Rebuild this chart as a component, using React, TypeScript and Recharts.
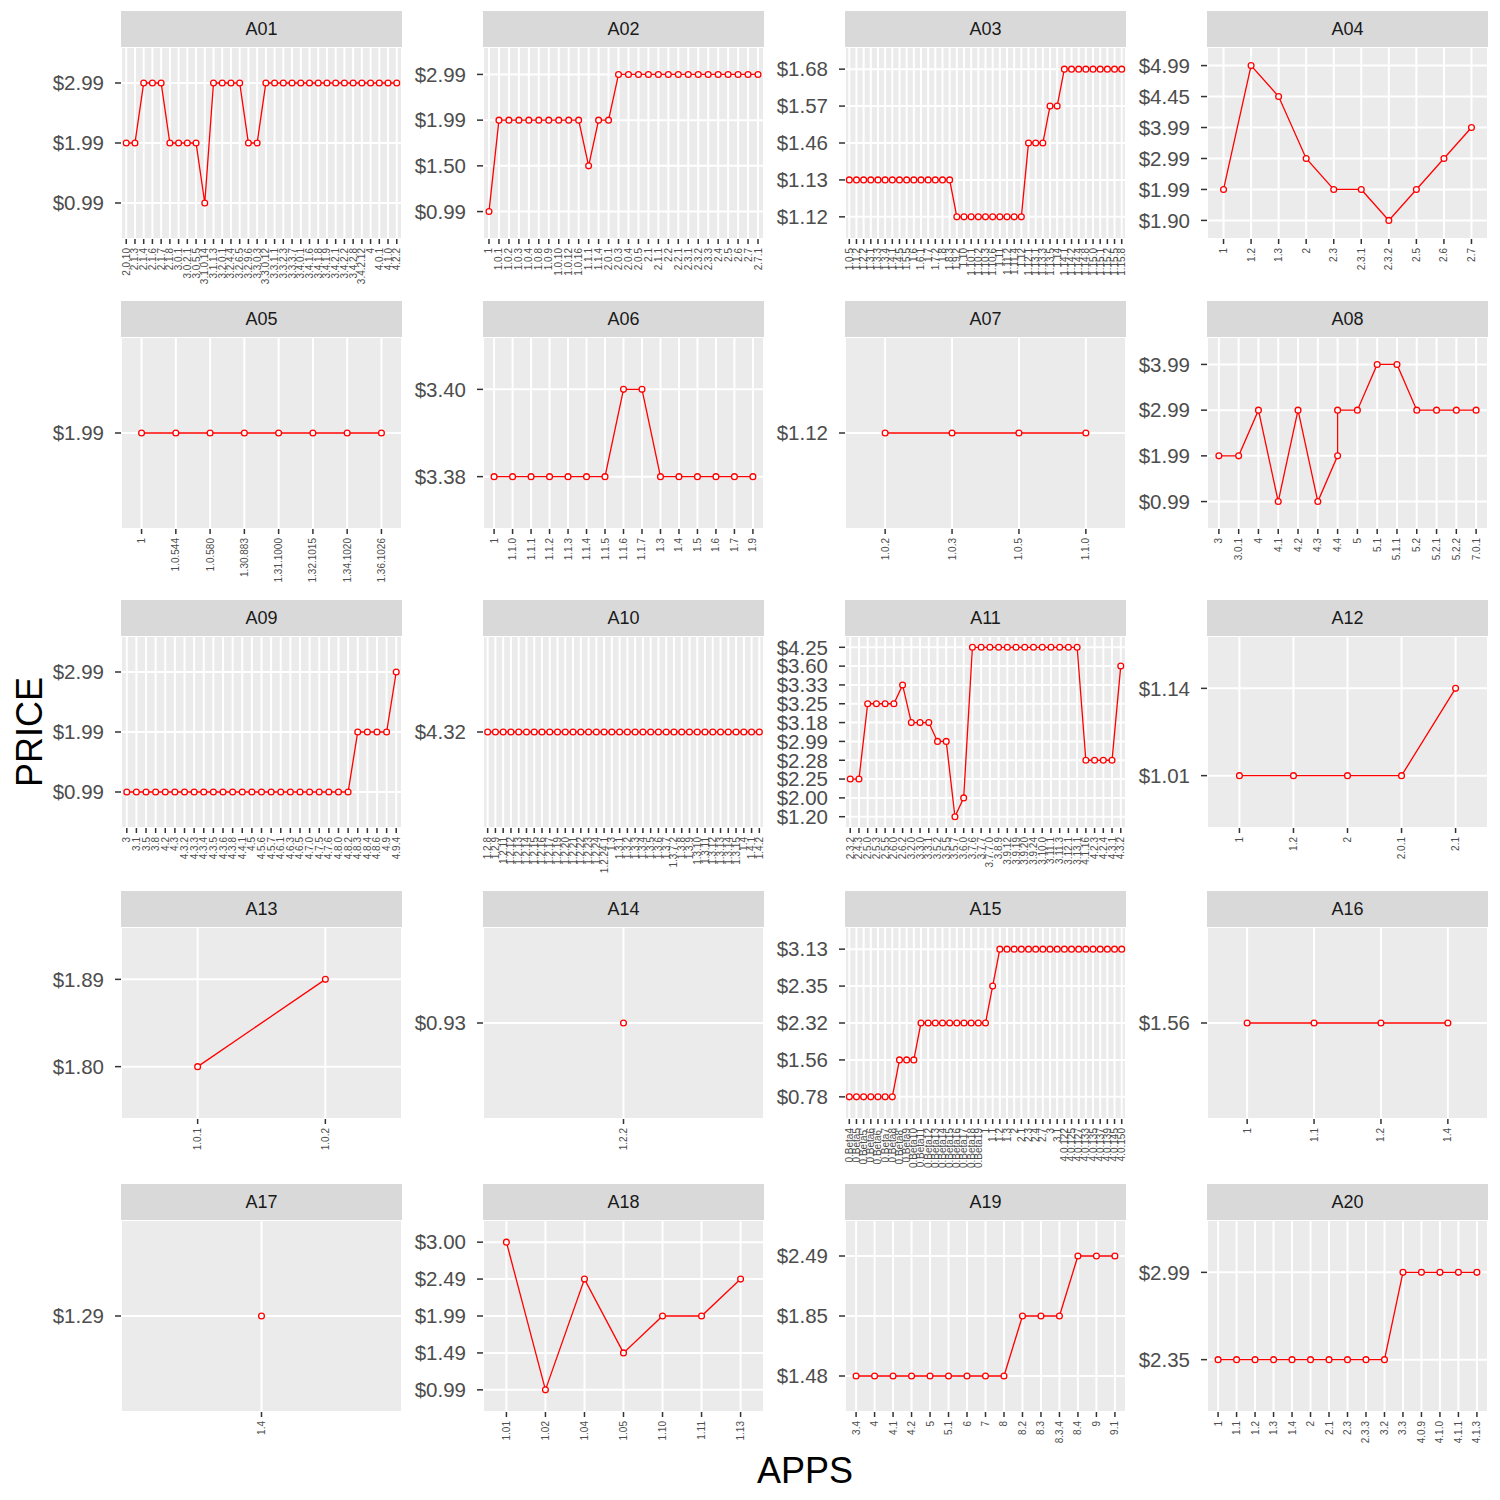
import React from 'react';
import { LineChart, Line, XAxis, YAxis, CartesianGrid } from 'recharts';

const FONT = '"Liberation Sans", Arial, Helvetica, sans-serif';

// ---- price history per app (x: version, y: price in USD) ----
const a01Versions = ['2.0.10', '2.1.3', '2.1.4', '2.1.6', '2.1.7', '2.1.8', '3.0.1', '3.0.2.1', '3.0.5.5', '3.1.0.14', '3.1.1.3', '3.2.0.1', '3.2.4.4', '3.2.6.5', '3.2.9.6', '3.3.0.3', '3.3.0.12', '3.3.1.1', '3.3.2.3', '3.3.3.7', '3.4.0.1', '3.4.1.6', '3.4.1.8', '3.4.1.9', '3.4.2.1', '3.4.2.2', '3.4.2.8', '3.4.2.12', '4', '4.0.1', '4.1.0', '4.2.2'];
const a01Prices = [1.99, 1.99, 2.99, 2.99, 2.99, 1.99, 1.99, 1.99, 1.99, 0.99, 2.99, 2.99, 2.99, 2.99, 1.99, 1.99, 2.99, 2.99, 2.99, 2.99, 2.99, 2.99, 2.99, 2.99, 2.99, 2.99, 2.99, 2.99, 2.99, 2.99, 2.99, 2.99];

const a02Versions = ['1', '1.0.1', '1.0.2', '1.0.3', '1.0.4', '1.0.8', '1.0.9', '1.0.10', '1.0.12', '1.0.16', '1.1.1', '1.1.4', '2.0.1', '2.0.3', '2.0.4', '2.0.5', '2.1', '2.1.1', '2.2', '2.2.1', '2.3.1', '2.3.2', '2.3.3', '2.4', '2.5', '2.6', '2.7', '2.7.1'];
const a02Prices = [0.99, 1.99, 1.99, 1.99, 1.99, 1.99, 1.99, 1.99, 1.99, 1.99, 1.5, 1.99, 1.99, 2.99, 2.99, 2.99, 2.99, 2.99, 2.99, 2.99, 2.99, 2.99, 2.99, 2.99, 2.99, 2.99, 2.99, 2.99];

const a03Versions = ['1.0.5', '1.1.2', '1.2.2', '1.3.1', '1.3.3', '1.3.4', '1.4.1', '1.4.5', '1.5.5', '1.6', '1.6.1', '1.7', '1.7.2', '1.8', '1.8.3', '1.9.2', '1.10', '1.10.1', '1.10.2', '1.10.3', '1.10.6', '1.11', '1.11.2', '1.11.4', '1.12', '1.12.1', '1.13.1', '1.13.3', '1.13.5', '1.14', '1.14.1', '1.14.2', '1.14.4', '1.14.8', '1.15.0', '1.15.1', '1.15.2', '1.15.5', '1.15.8'];
const a03Prices = [1.13, 1.13, 1.13, 1.13, 1.13, 1.13, 1.13, 1.13, 1.13, 1.13, 1.13, 1.13, 1.13, 1.13, 1.13, 1.12, 1.12, 1.12, 1.12, 1.12, 1.12, 1.12, 1.12, 1.12, 1.12, 1.46, 1.46, 1.46, 1.57, 1.57, 1.68, 1.68, 1.68, 1.68, 1.68, 1.68, 1.68, 1.68, 1.68];

const a04Versions = ['1', '1.2', '1.3', '2', '2.3', '2.3.1', '2.3.2', '2.5', '2.6', '2.7'];
const a04Prices = [1.99, 4.99, 4.45, 2.99, 1.99, 1.99, 1.9, 1.99, 2.99, 3.99];

const a05Versions = ['1', '1.0.544', '1.0.580', '1.30.883', '1.31.1000', '1.32.1015', '1.34.1020', '1.36.1026'];
const a05Prices = [1.99, 1.99, 1.99, 1.99, 1.99, 1.99, 1.99, 1.99];

const a06Versions = ['1', '1.1.0', '1.1.1', '1.1.2', '1.1.3', '1.1.4', '1.1.5', '1.1.6', '1.1.7', '1.3', '1.4', '1.5', '1.6', '1.7', '1.9'];
const a06Prices = [3.38, 3.38, 3.38, 3.38, 3.38, 3.38, 3.38, 3.4, 3.4, 3.38, 3.38, 3.38, 3.38, 3.38, 3.38];

const a07Versions = ['1.0.2', '1.0.3', '1.0.5', '1.1.0'];
const a07Prices = [1.12, 1.12, 1.12, 1.12];

const a08Versions = ['3', '3.0.1', '4', '4.1', '4.2', '4.3', '4.4', '5', '5.1', '5.1.1', '5.2', '5.2.1', '5.2.2', '7.0.1'];
// version 4.4 was listed at two prices
const a08PointVersions = ['3', '3.0.1', '4', '4.1', '4.2', '4.3', '4.4', '4.4', '5', '5.1', '5.1.1', '5.2', '5.2.1', '5.2.2', '7.0.1'];
const a08Prices = [1.99, 1.99, 2.99, 0.99, 2.99, 0.99, 1.99, 2.99, 2.99, 3.99, 3.99, 2.99, 2.99, 2.99, 2.99];

const a09Versions = ['3', '3.1', '3.5', '3.8', '4.2', '4.3', '4.3.2', '4.3.3', '4.3.4', '4.3.5', '4.3.6', '4.3.8', '4.4.1', '4.5', '4.5.6', '4.5.7', '4.6.1', '4.6.3', '4.6.5', '4.7.0', '4.7.5', '4.7.6', '4.8.0', '4.8.2', '4.8.3', '4.8.4', '4.8.6', '4.9', '4.9.4'];
const a09Prices = [0.99, 0.99, 0.99, 0.99, 0.99, 0.99, 0.99, 0.99, 0.99, 0.99, 0.99, 0.99, 0.99, 0.99, 0.99, 0.99, 0.99, 0.99, 0.99, 0.99, 0.99, 0.99, 0.99, 0.99, 1.99, 1.99, 1.99, 1.99, 2.99];

const a10Versions = ['1.2.8', '1.2.9', '1.2.11', '1.2.12', '1.2.13', '1.2.14', '1.2.15', '1.2.16', '1.2.17', '1.2.19', '1.2.20', '1.2.21', '1.2.22', '1.2.23', '1.2.24', '1.2.24.1', '1.3', '1.3.1', '1.3.2', '1.3.3', '1.3.4', '1.3.5', '1.3.6', '1.3.7', '1.3.7.2', '1.3.8', '1.3.9', '1.3.10', '1.3.11', '1.3.12', '1.3.13', '1.3.14', '1.3.15', '1.4', '1.4.1', '1.4.2'];
const a10Prices = [4.32, 4.32, 4.32, 4.32, 4.32, 4.32, 4.32, 4.32, 4.32, 4.32, 4.32, 4.32, 4.32, 4.32, 4.32, 4.32, 4.32, 4.32, 4.32, 4.32, 4.32, 4.32, 4.32, 4.32, 4.32, 4.32, 4.32, 4.32, 4.32, 4.32, 4.32, 4.32, 4.32, 4.32, 4.32, 4.32];

const a11Versions = ['2.3.2', '2.4.3', '2.5.0', '2.5.3', '2.5.5', '2.6.0', '2.6.2', '3.2.0', '3.3.0', '3.3.1', '3.5.2', '3.5.5', '3.5.7', '3.6.0', '3.7.6', '3.7.7', '3.7.7.0', '3.8.9', '3.9.12', '3.9.19', '3.9.20', '3.9.24', '3.10.0', '3.11.1', '3.11.3', '3.12.1', '3.13.1', '4.1.16', '4.2.3', '4.2.4', '4.3.1', '4.3.2'];
const a11Prices = [2.25, 2.25, 3.25, 3.25, 3.25, 3.25, 3.33, 3.18, 3.18, 3.18, 2.99, 2.99, 1.2, 2.0, 4.25, 4.25, 4.25, 4.25, 4.25, 4.25, 4.25, 4.25, 4.25, 4.25, 4.25, 4.25, 4.25, 2.28, 2.28, 2.28, 2.28, 3.6];

const a12Versions = ['1', '1.2', '2', '2.0.1', '2.1'];
const a12Prices = [1.01, 1.01, 1.01, 1.01, 1.14];

const a13Versions = ['1.0.1', '1.0.2'];
const a13Prices = [1.8, 1.89];

const a14Versions = ['1.2.2'];
const a14Prices = [0.93];

const a15Versions = ['0.Beta4', '0.Beta5', "0.Beta5'", '0.Beta6', "0.Beta6'", '0.Beta7', '0.Beta8', "0.Beta8'", '0.Beta9', '0.Beta10', '0.Beta11', '0.Beta12', '0.Beta13', '0.Beta14', '0.Beta15', '0.Beta16', '0.Beta17', '0.Beta18', '0.Beta19', '1', '1.1', '1.2', '1.3', '2', '2.1', '2.3', '2.4', '2.7', '3', '3.1', '4.0.122', '4.0.125', '4.0.127', '4.0.133', '4.0.135', '4.0.137', '4.0.139', '4.0.145', '4.0.150'];
const a15Prices = [0.78, 0.78, 0.78, 0.78, 0.78, 0.78, 0.78, 1.56, 1.56, 1.56, 2.32, 2.32, 2.32, 2.32, 2.32, 2.32, 2.32, 2.32, 2.32, 2.32, 2.35, 3.13, 3.13, 3.13, 3.13, 3.13, 3.13, 3.13, 3.13, 3.13, 3.13, 3.13, 3.13, 3.13, 3.13, 3.13, 3.13, 3.13, 3.13];

const a16Versions = ['1', '1.1', '1.2', '1.4'];
const a16Prices = [1.56, 1.56, 1.56, 1.56];

const a17Versions = ['1.4'];
const a17Prices = [1.29];

const a18Versions = ['1.01', '1.02', '1.04', '1.05', '1.10', '1.11', '1.13'];
const a18Prices = [3.0, 0.99, 2.49, 1.49, 1.99, 1.99, 2.49];

const a19Versions = ['3.4', '4', '4.1', '4.2', '5', '5.1', '6', '7', '8', '8.2', '8.3', '8.3.4', '8.4', '9', '9.1'];
const a19Prices = [1.48, 1.48, 1.48, 1.48, 1.48, 1.48, 1.48, 1.48, 1.48, 1.85, 1.85, 1.85, 2.49, 2.49, 2.49];

const a20Versions = ['1', '1.1', '1.2', '1.3', '1.4', '2', '2.1', '2.3', '2.3.3', '3.2', '3.3', '4.0.9', '4.1.0', '4.1.1', '4.1.3'];
const a20Prices = [2.35, 2.35, 2.35, 2.35, 2.35, 2.35, 2.35, 2.35, 2.35, 2.35, 2.99, 2.99, 2.99, 2.99, 2.99];

type PanelDef = { name: string; versions: string[]; prices: number[]; pointVersions?: string[] };

const panels: PanelDef[] = [
  { name: 'A01', versions: a01Versions, prices: a01Prices },
  { name: 'A02', versions: a02Versions, prices: a02Prices },
  { name: 'A03', versions: a03Versions, prices: a03Prices },
  { name: 'A04', versions: a04Versions, prices: a04Prices },
  { name: 'A05', versions: a05Versions, prices: a05Prices },
  { name: 'A06', versions: a06Versions, prices: a06Prices },
  { name: 'A07', versions: a07Versions, prices: a07Prices },
  { name: 'A08', versions: a08Versions, prices: a08Prices, pointVersions: a08PointVersions },
  { name: 'A09', versions: a09Versions, prices: a09Prices },
  { name: 'A10', versions: a10Versions, prices: a10Prices },
  { name: 'A11', versions: a11Versions, prices: a11Prices },
  { name: 'A12', versions: a12Versions, prices: a12Prices },
  { name: 'A13', versions: a13Versions, prices: a13Prices },
  { name: 'A14', versions: a14Versions, prices: a14Prices },
  { name: 'A15', versions: a15Versions, prices: a15Prices },
  { name: 'A16', versions: a16Versions, prices: a16Prices },
  { name: 'A17', versions: a17Versions, prices: a17Prices },
  { name: 'A18', versions: a18Versions, prices: a18Prices },
  { name: 'A19', versions: a19Versions, prices: a19Prices },
  { name: 'A20', versions: a20Versions, prices: a20Prices },
];

// ---- facet grid geometry ----
const COL_LEFT = [121, 483, 845, 1207];
const STRIP_TOP = [11, 301, 600, 891, 1184];
const PANEL_W = 281;
const PANEL_H = 192;
const STRIP_H = 36;
const Y_AXIS_W = 110;
const X_AXIS_H = 80;

const XTick = (props: any) => {
  const { x, y, payload, labels } = props;
  const label = labels[Math.round(payload.value) - 1] ?? '';
  return (
    <text
      x={x}
      y={y}
      transform={`rotate(-90 ${x} ${y})`}
      textAnchor="end"
      dominantBaseline="central"
      fontSize={10}
      fontFamily={FONT}
      fill="#4D4D4D"
    >
      {label}
    </text>
  );
};

const Panel = ({ def, left, top }: { def: PanelDef; left: number; top: number }) => {
  const levels = Array.from(new Set(def.prices)).sort((a, b) => a - b);
  const at = def.pointVersions ?? def.versions;
  const data = def.prices.map((p, i) => ({
    x: def.versions.indexOf(at[i]) + 1,
    y: levels.indexOf(p) + 1,
  }));
  const nx = def.versions.length;
  const ny = levels.length;
  const xTicks = def.versions.map((_, i) => i + 1);
  const yTicks = levels.map((_, i) => i + 1);
  return (
    <>
      <div
        style={{
          position: 'absolute',
          left,
          top,
          width: PANEL_W,
          height: STRIP_H,
          background: '#D9D9D9',
          color: '#1A1A1A',
          fontFamily: FONT,
          fontSize: 18,
          lineHeight: `${STRIP_H}px`,
          textAlign: 'center',
        }}
      >
        {def.name}
      </div>
      <div style={{ position: 'absolute', left: left - Y_AXIS_W, top: top + STRIP_H }}>
        <LineChart
          width={Y_AXIS_W + PANEL_W}
          height={PANEL_H + X_AXIS_H}
          data={data}
          margin={{ top: 0, right: 0, bottom: 0, left: 0 }}
        >
          <CartesianGrid fill="#EBEBEB" stroke="#FFFFFF" strokeWidth={2} />
          <XAxis
            type="number"
            dataKey="x"
            domain={[0.4, nx + 0.6]}
            ticks={xTicks}
            interval={0}
            allowDataOverflow
            height={X_AXIS_H}
            axisLine={false}
            tickLine={{ stroke: '#333333', strokeWidth: 1.5 }}
            tickSize={5}
            tickMargin={4}
            tick={<XTick labels={def.versions} />}
          />
          <YAxis
            type="number"
            dataKey="y"
            domain={[0.4, ny + 0.6]}
            ticks={yTicks}
            interval={0}
            allowDataOverflow
            width={Y_AXIS_W}
            axisLine={false}
            tickLine={{ stroke: '#333333', strokeWidth: 1.5 }}
            tickSize={6}
            tickMargin={11}
            tick={{ fontSize: 20.5, fill: '#4D4D4D', fontFamily: FONT }}
            tickFormatter={(v: number) => `$${levels[Math.round(v) - 1].toFixed(2)}`}
          />
          <Line
            type="linear"
            dataKey="y"
            stroke="#FF0000"
            strokeWidth={1.3}
            dot={{ r: 2.9, fill: '#FFFFFF', stroke: '#FF0000', strokeWidth: 1.3 }}
            isAnimationActive={false}
          />
        </LineChart>
      </div>
    </>
  );
};

export default function App() {
  return (
    <div style={{ position: 'absolute', left: 0, top: 0, width: 1500, height: 1500, background: '#FFFFFF', fontFamily: FONT }}>
      {panels.map((def, i) => (
        <Panel key={def.name} def={def} left={COL_LEFT[i % 4]} top={STRIP_TOP[Math.floor(i / 4)]} />
      ))}
      <div
        style={{
          position: 'absolute',
          left: 30,
          top: 732,
          transform: 'translate(-50%, -50%) rotate(-90deg)',
          fontSize: 36,
          color: '#000000',
          whiteSpace: 'nowrap',
        }}
      >
        PRICE
      </div>
      <div
        style={{
          position: 'absolute',
          left: 805,
          top: 1471,
          transform: 'translate(-50%, -50%)',
          fontSize: 36,
          color: '#000000',
          whiteSpace: 'nowrap',
        }}
      >
        APPS
      </div>
    </div>
  );
}
